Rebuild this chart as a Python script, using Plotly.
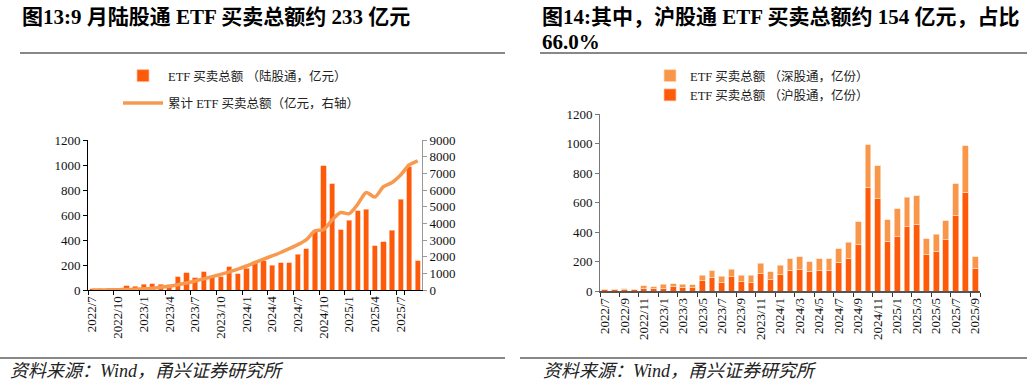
import plotly.graph_objects as go

months = ["2022/7","2022/8","2022/9","2022/10","2022/11","2022/12",
          "2023/1","2023/2","2023/3","2023/4","2023/5","2023/6",
          "2023/7","2023/8","2023/9","2023/10","2023/11","2023/12",
          "2024/1","2024/2","2024/3","2024/4","2024/5","2024/6",
          "2024/7","2024/8","2024/9","2024/10","2024/11","2024/12",
          "2025/1","2025/2","2025/3","2025/4","2025/5","2025/6",
          "2025/7","2025/8","2025/9"]

# 陆股通 ETF 买卖总额（亿元）
total = [11, 11, 14, 11, 36, 29, 45, 50, 47, 41, 106, 138,
         100, 147, 108, 108, 188, 129, 174, 219, 233, 199, 219, 219,
         287, 332, 468, 993, 850, 484, 559, 636, 645, 355, 385, 477,
         726, 986, 233]

# 沪股通 ETF 买卖总额（亿份）
sh = [7, 7, 9, 7, 20, 18, 20, 32, 27, 23, 68, 90,
      61, 95, 63, 57, 118, 81, 109, 140, 147, 129, 136, 142,
      194, 222, 317, 703, 627, 339, 369, 437, 452, 247, 271, 346,
      509, 670, 154]

# 深股通 = 总额 - 沪股通
sz = [t - s for t, s in zip(total, sh)]

# 累计 ETF 买卖总额（亿元，右轴）
cum = [0, 5, 10, 20, 30, 45, 70, 110, 160, 230, 320, 420,
       540, 670, 800, 940, 1090, 1250, 1440, 1650, 1850, 2050, 2250, 2480,
       2720, 3020, 3550, 3620, 4200, 4650, 4580, 5150, 5850, 5580, 6200, 6450,
       6900, 7500, 7750]

left_ticks = months[::3]
right_ticks = months[::2]

W, H = 1032, 385
def px(x): return x / W
def py(y): return 1 - y / H

DARK = "#FD5A0A"
LIGHT = "#F8964A"
LINEC = "#F79A50"
FONT = "Liberation Serif, Noto Sans CJK SC, serif"

fig = go.Figure()

fig.add_trace(go.Bar(x=months, y=total, name="ETF 买卖总额 （陆股通，亿元）",
                     marker=dict(color=DARK, line=dict(color="rgba(255,190,160,0.9)", width=0.8)),
                     xaxis="x", yaxis="y", legend="legend", legendgroup="a"))
fig.add_trace(go.Scatter(x=months, y=cum, name="累计 ETF 买卖总额（亿元，右轴）",
                         mode="lines", line=dict(color=LINEC, width=3.5, shape="spline", smoothing=0.8),
                         xaxis="x", yaxis="y2", legend="legend", legendgroup="b"))

fig.add_trace(go.Bar(x=months, y=sh, name="ETF 买卖总额 （沪股通，亿份）",
                     marker=dict(color=DARK, line=dict(color="rgba(255,200,170,0.9)", width=0.8)),
                     xaxis="x2", yaxis="y3", legend="legend2"))
fig.add_trace(go.Bar(x=months, y=sz, name="ETF 买卖总额 （深股通，亿份）",
                     marker=dict(color=LIGHT, line=dict(color="rgba(255,220,195,0.9)", width=0.8)),
                     xaxis="x2", yaxis="y3", legend="legend2"))

tickfont = dict(family=FONT, size=13, color="#111")

fig.update_layout(
    width=W, height=H, margin=dict(l=0, r=0, t=0, b=0, autoexpand=False),
    paper_bgcolor="white", plot_bgcolor="white",
    barmode="stack", bargap=0.4,
    font=dict(family=FONT, size=13, color="#111"),
    xaxis=dict(domain=[px(88), px(422)], type="category", tickmode="array",
               tickvals=left_ticks, ticktext=left_ticks, tickangle=-90,
               tickson="boundaries", ticks="outside", ticklen=4, tickcolor="#000",
               showline=True, linecolor="#000", linewidth=1, showgrid=False,
               tickfont=tickfont, anchor="y", automargin=False),
    yaxis=dict(domain=[py(290), py(140)], range=[0, 1200], dtick=200,
               showline=True, linecolor="#000", linewidth=1, ticks="outside",
               ticklen=4, tickcolor="#000", showgrid=False, zeroline=False,
               tickfont=tickfont, anchor="x", automargin=False),
    yaxis2=dict(overlaying="y", side="right", range=[0, 9000], dtick=1000,
                showline=True, linecolor="#999", linewidth=1, ticks="outside",
                ticklen=4, tickcolor="#999", showgrid=False, zeroline=False,
                tickfont=tickfont, anchor="x", automargin=False),
    xaxis2=dict(domain=[px(600), px(980)], type="category", tickmode="array",
                tickvals=right_ticks, ticktext=right_ticks, tickangle=-90,
                tickson="boundaries", ticks="outside", ticklen=4, tickcolor="#333",
                showline=True, linecolor="#555", linewidth=1.5, showgrid=False,
                tickfont=tickfont, anchor="y3", automargin=False),
    yaxis3=dict(domain=[py(291), py(114)], range=[0, 1200], dtick=200,
                showline=True, linecolor="#777", linewidth=1, ticks="outside",
                ticklen=4, tickcolor="#777", showgrid=False, zeroline=False,
                tickfont=tickfont, anchor="x2", automargin=False),
    legend=dict(x=px(118), y=py(61), xanchor="left", yanchor="top",
                font=dict(family=FONT, size=12.5, color="#222"),
                bgcolor="rgba(0,0,0,0)", itemwidth=40, tracegroupgap=8,
                traceorder="grouped"),
    legend2=dict(x=px(650), y=py(61), xanchor="left", yanchor="top",
                 font=dict(family=FONT, size=12.5, color="#222"),
                 bgcolor="rgba(0,0,0,0)", itemwidth=30, traceorder="reversed"),
)

# Titles
fig.add_annotation(text="<b>图13:9 月陆股通 ETF 买卖总额约 233 亿元</b>",
                   x=px(20), y=py(17), xref="paper", yref="paper",
                   xanchor="left", yanchor="middle", showarrow=False,
                   font=dict(family=FONT, size=21, color="#000"))
fig.add_annotation(text="<b>图14:其中，沪股通 ETF 买卖总额约 154 亿元，占比</b>",
                   x=px(540), y=py(17), xref="paper", yref="paper",
                   xanchor="left", yanchor="middle", showarrow=False,
                   font=dict(family=FONT, size=21, color="#000"))
fig.add_annotation(text="<b>66.0%</b>",
                   x=px(540), y=py(42), xref="paper", yref="paper",
                   xanchor="left", yanchor="middle", showarrow=False,
                   font=dict(family=FONT, size=21, color="#000"))

# Sources
for x0 in (8, 541):
    fig.add_annotation(text="<i>资料来源：Wind，甬兴证券研究所</i>",
                       x=px(x0), y=py(371), xref="paper", yref="paper",
                       xanchor="left", yanchor="middle", showarrow=False,
                       font=dict(family=FONT, size=18, color="#222"))

# Separator lines
for (x0, x1) in ((20, 505), (540, 1027)):
    fig.add_shape(type="line", xref="paper", yref="paper",
                  x0=px(x0), x1=px(x1), y0=py(53), y1=py(53),
                  line=dict(color="#888", width=2))
for (x0, x1) in ((0, 505), (520, 1027)):
    fig.add_shape(type="line", xref="paper", yref="paper",
                  x0=px(x0), x1=px(x1), y0=py(358), y1=py(358),
                  line=dict(color="#888", width=2))

fig.write_html("out.html", config={"displayModeBar": False},
               post_script="document.body.style.margin='0';document.body.style.overflow='hidden';")
